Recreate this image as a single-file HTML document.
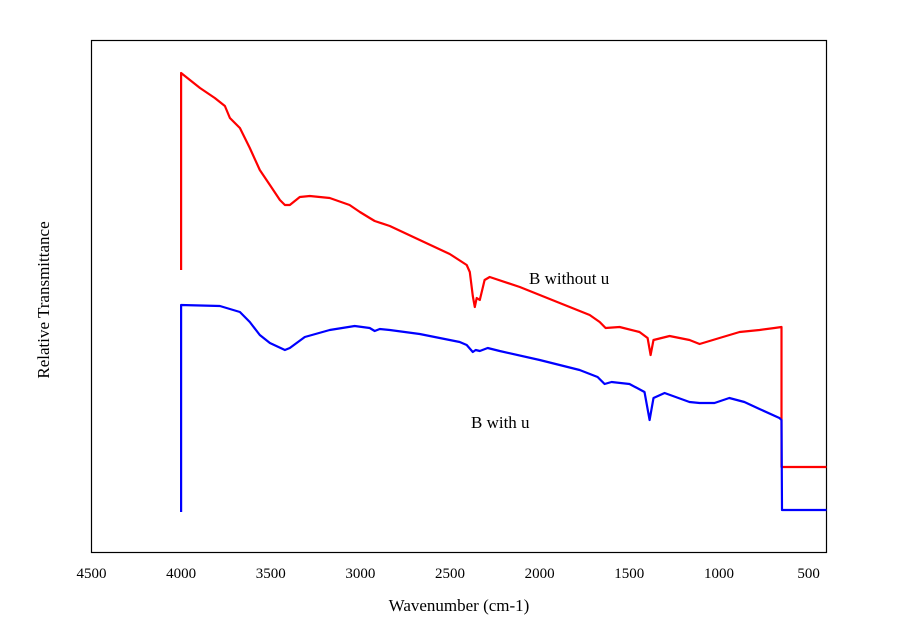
<!DOCTYPE html>
<html><head><meta charset="utf-8"><style>
html,body{margin:0;padding:0;background:#fff;}
svg{display:block;font-family:"Liberation Serif",serif;}
</style></head><body>
<svg id="chart" width="900" height="635" viewBox="0 0 900 635">
<rect x="91.5" y="40.5" width="735" height="512" fill="none" stroke="#000" stroke-width="1.2"/>
<g id="xticks"></g>
<g id="series"></g>
<text x="459" y="611" font-size="17" text-anchor="middle">Wavenumber (cm-1)</text>
<text transform="translate(49,300) rotate(-90)" font-size="17" text-anchor="middle">Relative Transmittance</text>
<text x="529" y="284" font-size="17">B without u</text>
<text x="471" y="428" font-size="17">B with u</text>
</svg>
<script>
const xTicks=[4500,4000,3500,3000,2500,2000,1500,1000,500];
const redWn=[4000,4000,3895,3812,3756,3728,3672,3617,3561,3505,3449,3421,3394,3338,3282,3171,3060,3003,2948,2920,2836,2669,2502,2407,2390,2373,2362,2351,2334,2307,2279,2111,1888,1721,1665,1632,1554,1443,1398,1381,1365,1275,1164,1108,997,885,774,690,651,651,400];
const redT=[282,479,464,454,446,434,424,404,382,367,352,347,347,355,356,354,347,340,334,331,326,312,298,287,280,256,245,254,252,272,275,265,249,237,230,224,225,220,214,197,212,216,212,208,214,220,222,224,225,85,85];
const blueWn=[4000,4000,3784,3672,3617,3561,3505,3421,3394,3310,3171,3032,2948,2920,2892,2836,2669,2446,2407,2373,2357,2334,2290,2223,2000,1777,1677,1638,1599,1499,1415,1387,1365,1303,1164,1108,1025,942,858,774,663,651,648,400];
const blueT=[40,247,246,240,230,217,209,202,204,215,222,226,224,221,223,222,218,210,207,200,202,201,204,201,192,182,175,168,170,168,160,132,154,159,150,149,149,154,150,143,134,132,42,42];
const xMin=4500,xMax=400,yMin=0,yMax=512;
const L=91.5,R=826.5,T=40,B=552;
const sx=v=>L+(xMin-v)/(xMin-xMax)*(R-L);
const sy=v=>B-(v-yMin)/(yMax-yMin)*(B-T);
const NS="http://www.w3.org/2000/svg";
const gx=document.getElementById('xticks');
xTicks.forEach(t=>{
  const tx=document.createElementNS(NS,'text');
  tx.setAttribute('x',sx(t));tx.setAttribute('y',578);
  tx.setAttribute('font-size','15');tx.setAttribute('text-anchor','middle');
  tx.textContent=t;
  
  
  gx.appendChild(tx);
});
const gs=document.getElementById('series');
function draw(wn,tv,color,name){
  const p=document.createElementNS(NS,'polyline');
  p.setAttribute('points',wn.map((w,i)=>sx(w).toFixed(1)+','+sy(tv[i]).toFixed(1)).join(' '));
  p.setAttribute('fill','none');p.setAttribute('stroke',color);
  p.setAttribute('stroke-width','2.2');p.setAttribute('stroke-linejoin','round');
  
  
  gs.appendChild(p);
}
draw(redWn,redT,'#ff0000','series-b-without-u');
draw(blueWn,blueT,'#0000ff','series-b-with-u');
</script>
</body></html>
